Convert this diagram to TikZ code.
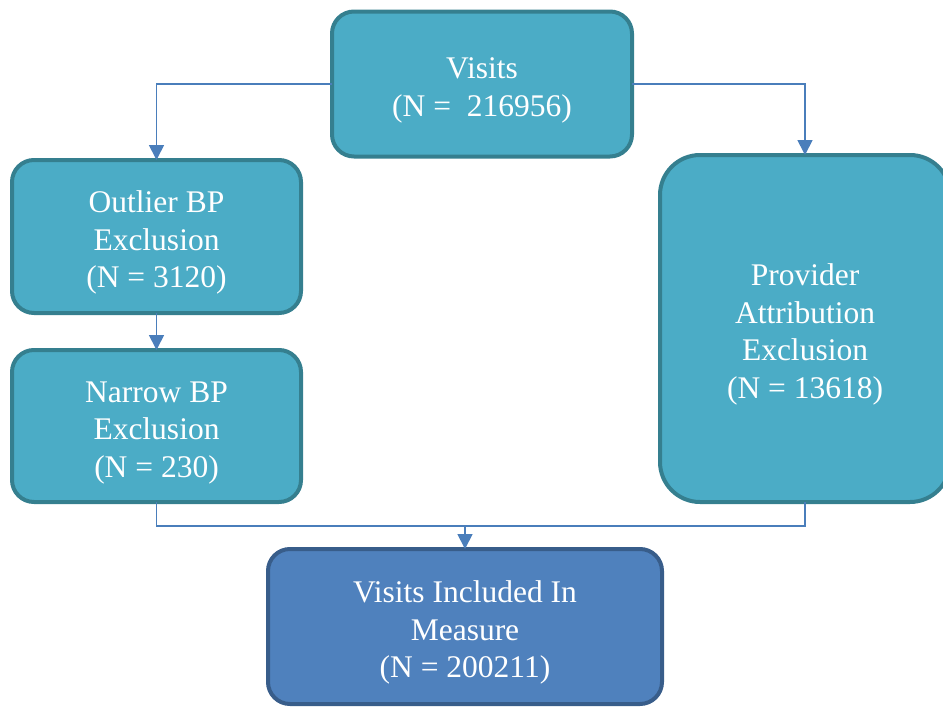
\documentclass[tikz,border=0pt]{standalone}
\usepackage{fontspec}
\setmainfont{Liberation Serif}
\usetikzlibrary{arrows.meta}
\definecolor{boxfill}{HTML}{4BACC6}
\definecolor{boxline}{HTML}{357F8F}
\definecolor{endfill}{HTML}{4F81BD}
\definecolor{endline}{HTML}{385D8A}
\definecolor{flowblue}{HTML}{4A7EBB}
\newcommand{\liftline}{\rule{0pt}{34pt}}

\begin{document}
\begin{tikzpicture}[x=1pt,y=-1pt,
  stagebox/.style={draw=boxline,fill=boxfill,line width=4pt,rounded corners=22pt,
    text=white,align=center,inner sep=0pt,outer sep=0pt,
    font=\fontsize{31.5}{37.5}\selectfont},
  flow/.style={draw=flowblue,line width=1.8pt},
  flowarrow/.style={flow,-{Triangle[length=15pt,width=15pt]}}]
\useasboundingbox (0,0) rectangle (943,707);
\clip (0,0) rectangle (943,707);
% boxes
\node[stagebox,minimum width=300pt,minimum height=145pt] (visits) at (482,84) {\liftline Visits\\(N =\ \ 216956)};
\node[stagebox,minimum width=289pt,minimum height=153pt] (outlier) at (156.5,236.5) {\liftline Outlier BP\\Exclusion\\(N = 3120)};
\node[stagebox,minimum width=289pt,minimum height=152pt] (narrow) at (156.5,426) {\liftline Narrow BP\\Exclusion\\(N = 230)};
\node[stagebox,rounded corners=40pt,minimum width=290pt,minimum height=347pt] (provider) at (805,328.5) {\liftline Provider\\Attribution\\Exclusion\\(N = 13618)};
\node[stagebox,draw=endline,fill=endfill,minimum width=394pt,minimum height=155pt] (result) at (465,626.5) {\liftline Visits Included In\\Measure\\(N = 200211)};
% connectors
\coordinate (join) at (465,526);
\draw[flowarrow] (visits.west) -| (outlier.north);
\draw[flowarrow] (visits.east) -| (provider.north);
\draw[flowarrow] (outlier.south) -- (narrow.north);
\draw[flow] (narrow.south) |- (join) -| (provider.south);
\draw[flowarrow] (join) -- (result.north);
\end{tikzpicture}
\end{document}
